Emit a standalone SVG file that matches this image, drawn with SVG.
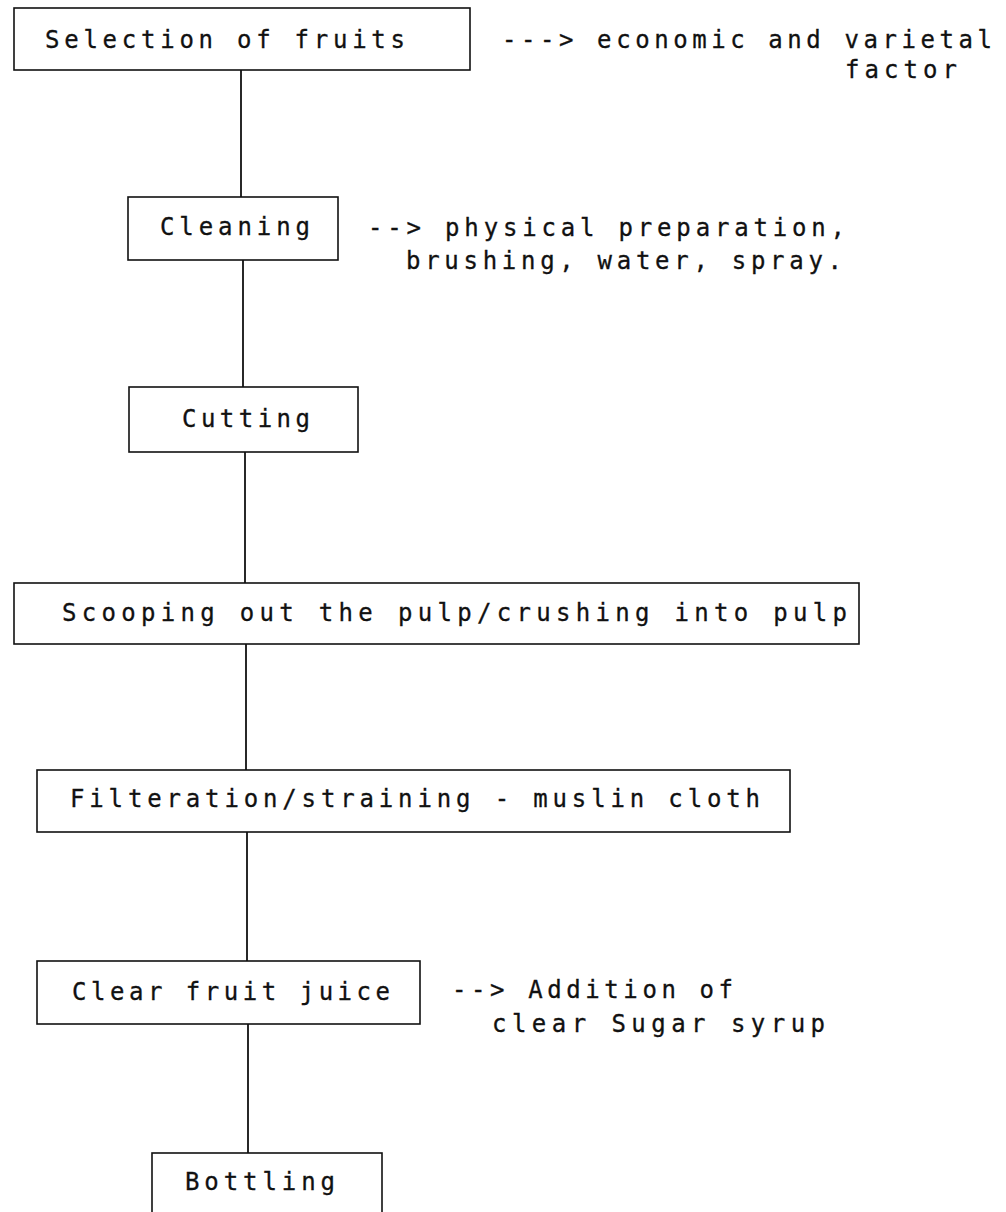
<svg xmlns="http://www.w3.org/2000/svg" width="1006" height="1212" viewBox="0 0 1006 1212">
<style>
.box{fill:none;stroke:#111;stroke-width:1.6}
.con{stroke:#111;stroke-width:1.8;fill:none}
text{font-family:"DejaVu Sans Mono","Liberation Mono",monospace;font-size:24px;fill:#111;stroke:#111;stroke-width:0.3}
</style>
<rect width="1006" height="1212" fill="#fff"/>
<g id="connectors">
<line class="con" x1="241" y1="70" x2="241" y2="197"/>
<line class="con" x1="243" y1="260" x2="243" y2="387"/>
<line class="con" x1="245" y1="452" x2="245" y2="583"/>
<line class="con" x1="246" y1="644" x2="246" y2="770"/>
<line class="con" x1="247" y1="832" x2="247" y2="961"/>
<line class="con" x1="248" y1="1024" x2="248" y2="1153"/>
</g>
<g id="n1">
<rect class="box" x="14" y="8" width="456" height="62"/>
<text x="45" y="48" textLength="360" lengthAdjust="spacing">Selection of fruits</text>
</g>
<g id="a1">
<text x="502" y="48" textLength="490" lengthAdjust="spacing">---&gt; economic and varietal</text>
<text x="845" y="78" textLength="112" lengthAdjust="spacing">factor</text>
</g>
<g id="n2">
<rect class="box" x="128" y="197" width="210" height="63"/>
<text x="160" y="235" textLength="150" lengthAdjust="spacing">Cleaning</text>
</g>
<g id="a2">
<text x="368" y="236" textLength="477" lengthAdjust="spacing">--&gt; physical preparation,</text>
<text x="406" y="269" textLength="436" lengthAdjust="spacing">brushing, water, spray.</text>
</g>
<g id="n3">
<rect class="box" x="129" y="387" width="229" height="65"/>
<text x="182" y="427" textLength="128" lengthAdjust="spacing">Cutting</text>
</g>
<g id="n4">
<rect class="box" x="14" y="583" width="845" height="61"/>
<text x="62" y="621" textLength="785" lengthAdjust="spacing">Scooping out the pulp/crushing into pulp</text>
</g>
<g id="n5">
<rect class="box" x="37" y="770" width="753" height="62"/>
<text x="70" y="807" textLength="690" lengthAdjust="spacing">Filteration/straining - muslin cloth</text>
</g>
<g id="n6">
<rect class="box" x="37" y="961" width="383" height="63"/>
<text x="72" y="1000" textLength="318" lengthAdjust="spacing">Clear fruit juice</text>
</g>
<g id="a6">
<text x="452" y="998" textLength="281" lengthAdjust="spacing">--&gt; Addition of</text>
<text x="492" y="1032" textLength="333" lengthAdjust="spacing">clear Sugar syrup</text>
</g>
<g id="n7">
<rect class="box" x="152" y="1153" width="230" height="62"/>
<text x="185" y="1190" textLength="150" lengthAdjust="spacing">Bottling</text>
</g>
</svg>
